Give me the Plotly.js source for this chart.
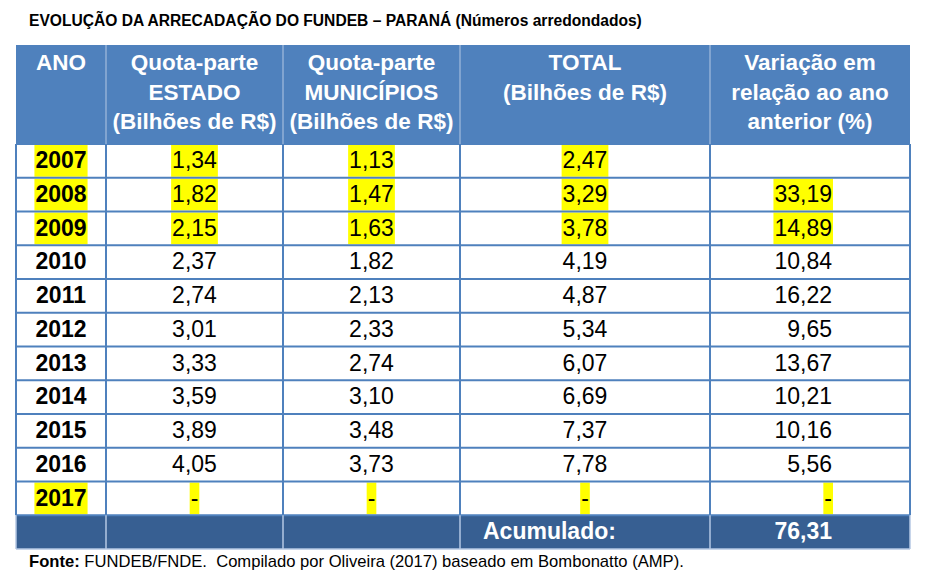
<!DOCTYPE html>
<html>
<head>
<meta charset="utf-8">
<script src="https://cdn.plot.ly/plotly-3.0.1.min.js"></script>
<style>html,body{margin:0;padding:0;background:#fff}#chart{width:926px;height:579px}</style>
</head>
<body>
<div id="chart"></div>
<script>
// ---------------- DATA ----------------
const years = [2007, 2008, 2009, 2010, 2011, 2012, 2013, 2014, 2015, 2016, 2017];
const quotaEstado = [1.34, 1.82, 2.15, 2.37, 2.74, 3.01, 3.33, 3.59, 3.89, 4.05, null];
const quotaMunicipios = [1.13, 1.47, 1.63, 1.82, 2.13, 2.33, 2.74, 3.10, 3.48, 3.73, null];
const totalAno = [2.47, 3.29, 3.78, 4.19, 4.87, 5.34, 6.07, 6.69, 7.37, 7.78, null];
const variacaoAnual = [null, 33.19, 14.89, 10.84, 16.22, 9.65, 13.67, 10.21, 10.16, 5.56, null];
const headerLabels = [
  'ANO',
  'Quota-parte<br>ESTADO<br>(Bilhões de R$)',
  'Quota-parte<br>MUNICÍPIOS<br>(Bilhões de R$)',
  'TOTAL<br>(Bilhões de R$)',
  'Variação em<br>relação ao ano<br>anterior (%)'
];
const acumuladoLabel = 'Acumulado:';
const acumuladoValor = 76.31;
const highlightedYears = [2007, 2008, 2009, 2017];
const titleText = 'EVOLUÇÃO DA ARRECADAÇÃO DO FUNDEB – PARANÁ (Números arredondados)';
const sourceText = '<b>Fonte:</b> FUNDEB/FNDE.\u00a0 Compilado por Oliveira (2017) baseado em Bombonatto (AMP).';

// ---------------- STYLE / GEOMETRY ----------------
const FONT = '"Liberation Sans", Arial, sans-serif';
const W = 926, H = 579, ML = 15, MR = 15, MT = 44;
const colW = [90, 177, 177, 250, 200];
const colLeft = [0];
colW.forEach(w => colLeft.push(colLeft[colLeft.length - 1] + w));
const tableW = colLeft[colLeft.length - 1];
const headerH = 99, rowH = 33.75;
const nData = years.length;
const tableH = headerH + (nData + 1) * rowH;
const plotW = tableW + 2, plotH = tableH + 2;
const MB = H - MT - plotH;
const rowTop = i => headerH + i * rowH;
const rowMid = i => rowTop(i) + rowH / 2 + 1.5;
const colMid = c => colLeft[c] + colW[c] / 2;
const varRightX = colLeft[5] - 78;
const acumLeftX = colLeft[3] + 23;
const cellSize = 23, headSize = 22.5;
const HEAD_BLUE = '#4F81BD', DARK_BLUE = '#375F92', LINE_BLUE = '#4F81BD', LIGHT_LINE = '#B4C7E3';

const fmt = v => v.toFixed(2).replace('.', ',');
const cellStr = (v, i, isVar) => v == null ? ((isVar && i === 0) ? '' : '-') : fmt(v);

const colTexts = [
  years.map(y => String(y)),
  quotaEstado.map((v, i) => cellStr(v, i, false)),
  quotaMunicipios.map((v, i) => cellStr(v, i, false)),
  totalAno.map((v, i) => cellStr(v, i, false)),
  variacaoAnual.map((v, i) => cellStr(v, i, true))
];

const rowsY = years.map((_, i) => rowMid(i));
const traces = [];
for (let c = 0; c < 5; c++) {
  const isVar = c === 4;
  traces.push({
    type: 'scatter', mode: 'text', hoverinfo: 'skip', cliponaxis: false, showlegend: false,
    x: years.map(() => isVar ? varRightX : colMid(c)),
    y: rowsY,
    text: colTexts[c].map(t => c === 0 ? '<b>' + t + '</b>' : t),
    textposition: isVar ? 'middle left' : 'middle center',
    textfont: {family: FONT, size: cellSize, color: '#000'}
  });
}
// header
traces.push({
  type: 'scatter', mode: 'text', hoverinfo: 'skip', cliponaxis: false, showlegend: false,
  x: headerLabels.map((_, c) => colMid(c)),
  y: headerLabels.map(() => 8.5),
  text: headerLabels.map(t => '<b>' + t + '</b>'),
  textposition: 'bottom center',
  textfont: {family: FONT, size: headSize, color: '#fff'}
});
// accumulated row
traces.push({
  type: 'scatter', mode: 'text', hoverinfo: 'skip', cliponaxis: false, showlegend: false,
  x: [acumLeftX], y: [rowMid(nData)],
  text: ['<b>' + acumuladoLabel + '</b>'],
  textposition: 'middle right',
  textfont: {family: FONT, size: cellSize, color: '#fff'}
});
traces.push({
  type: 'scatter', mode: 'text', hoverinfo: 'skip', cliponaxis: false, showlegend: false,
  x: [varRightX], y: [rowMid(nData)],
  text: ['<b>' + fmt(acumuladoValor) + '</b>'],
  textposition: 'middle left',
  textfont: {family: FONT, size: cellSize, color: '#fff'}
});

// ---------------- SHAPES ----------------
const shapes = [];
shapes.push({type: 'rect', layer: 'below', xref: 'x', yref: 'y', x0: 0, x1: tableW, y0: 0, y1: headerH,
  fillcolor: HEAD_BLUE, line: {width: 0}});
shapes.push({type: 'rect', layer: 'below', xref: 'x', yref: 'y', x0: 0, x1: tableW, y0: rowTop(nData), y1: tableH,
  fillcolor: DARK_BLUE, line: {width: 0}});

// highlights measured from the rendered font
const cv = document.createElement('canvas').getContext('2d');
function textW(t, bold) {
  cv.font = (bold ? 'bold ' : '') + cellSize + 'px "Liberation Sans", Arial, sans-serif';
  return cv.measureText(t).width;
}
years.forEach((y, i) => {
  if (highlightedYears.indexOf(y) < 0) return;
  for (let c = 0; c < 5; c++) {
    const t = colTexts[c][i];
    if (!t) continue;
    const w = textW(t, c === 0);
    let x0, x1;
    if (c === 4) { x1 = varRightX + 1; x0 = varRightX - w - 1; }
    else { x0 = colMid(c) - w / 2 - 1; x1 = colMid(c) + w / 2 + 1; }
    shapes.push({type: 'rect', layer: 'below', xref: 'x', yref: 'y', x0, x1,
      y0: rowTop(i) + 1, y1: rowTop(i + 1) - 1, fillcolor: '#FFFF00', line: {width: 0}});
  }
});

// grid lines
for (let k = 0; k <= nData; k++) {
  shapes.push({type: 'line', layer: 'above', xref: 'x', yref: 'y', x0: 0, x1: tableW, y0: rowTop(k), y1: rowTop(k),
    line: {color: LINE_BLUE, width: 2}});
}
shapes.push({type: 'line', layer: 'above', xref: 'x', yref: 'y', x0: 0, x1: tableW, y0: tableH, y1: tableH,
  line: {color: LIGHT_LINE, width: 1.5}});
for (let k = 0; k < colLeft.length; k++) {
  shapes.push({type: 'line', layer: 'above', xref: 'x', yref: 'y', x0: colLeft[k], x1: colLeft[k],
    y0: headerH, y1: rowTop(nData), line: {color: LINE_BLUE, width: 2}});
  if (k > 0 && k < colLeft.length - 1) {
    shapes.push({type: 'line', layer: 'above', xref: 'x', yref: 'y', x0: colLeft[k], x1: colLeft[k],
      y0: 0, y1: headerH, line: {color: LIGHT_LINE, width: 1}});
  }
  shapes.push({type: 'line', layer: 'above', xref: 'x', yref: 'y', x0: colLeft[k], x1: colLeft[k],
    y0: rowTop(nData), y1: tableH, line: {color: LIGHT_LINE, width: 1.5}});
}

const pxX = p => (p - ML) / plotW;
const pxY = p => 1 - (p - MT) / plotH;

const layout = {
  width: W, height: H,
  margin: {l: ML, r: MR, t: MT, b: MB, pad: 0},
  paper_bgcolor: '#fff', plot_bgcolor: '#fff',
  showlegend: false,
  xaxis: {range: [-1, tableW + 1], visible: false, fixedrange: true},
  yaxis: {range: [tableH + 1, -1], visible: false, fixedrange: true},
  shapes: shapes,
  annotations: [
    {xref: 'paper', yref: 'paper', x: pxX(27), y: pxY(19), xanchor: 'left', yanchor: 'middle',
     showarrow: false, text: '<b>' + titleText + '</b>', font: {family: FONT, size: 15.6, color: '#000'}},
    {xref: 'paper', yref: 'paper', x: pxX(27), y: pxY(561), xanchor: 'left', yanchor: 'middle',
     showarrow: false, text: sourceText, font: {family: FONT, size: 16.6, color: '#000'}}
  ]
};

Plotly.newPlot('chart', traces, layout, {displayModeBar: false, staticPlot: true});
</script>
</body>
</html>
